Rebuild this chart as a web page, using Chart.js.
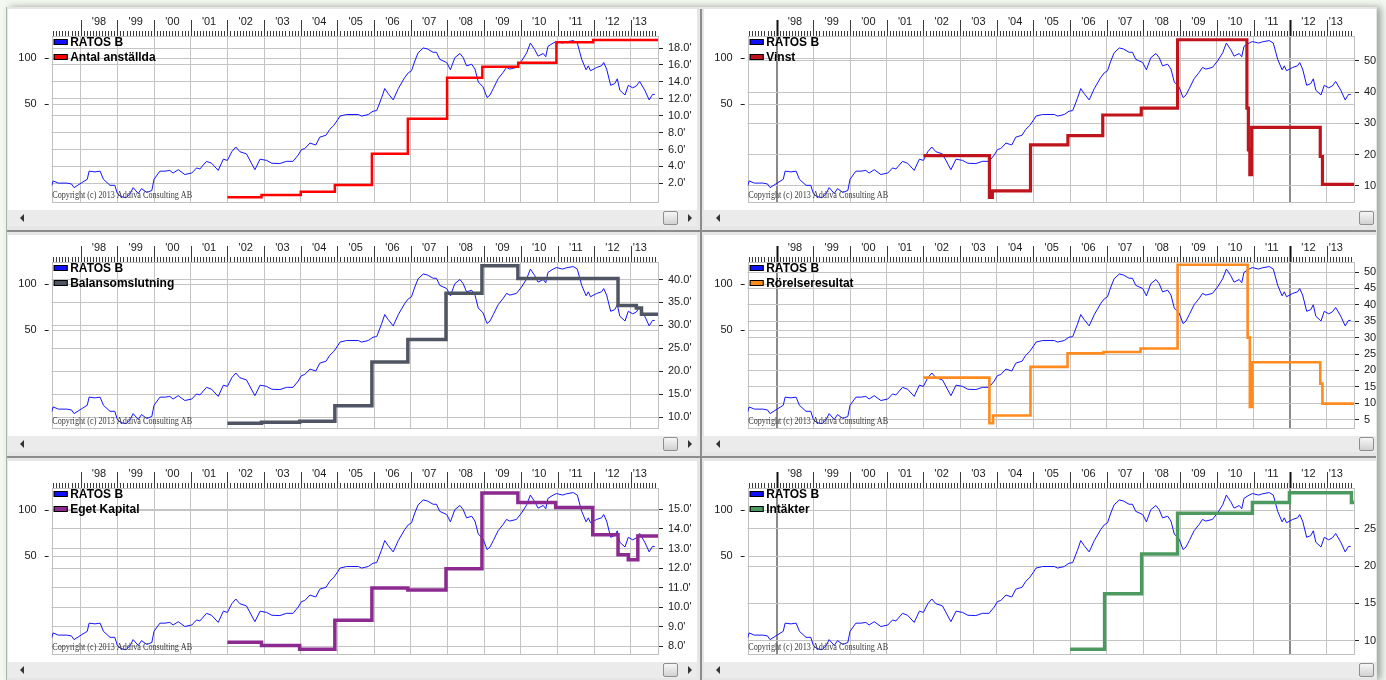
<!DOCTYPE html>
<html><head><meta charset="utf-8">
<script src="https://cdn.jsdelivr.net/npm/chart.js@4.4.1/dist/chart.umd.min.js"></script>
<style>
html,body{margin:0;padding:0;}
body{width:1386px;height:680px;overflow:hidden;background:#f3f8f0;position:relative;font-family:"Liberation Sans",Arial,sans-serif;}
#frame{position:absolute;left:6px;top:7px;width:1370px;height:673px;background:#e6e6e6;border-left:1px solid #a9b7ae;box-shadow:4px 0 7px rgba(0,0,0,0.35);}
.panel{position:absolute;background:#fff;overflow:hidden;height:217px;}
.panel canvas{position:absolute;left:0;top:0;}
.sb{position:absolute;left:0;right:0;top:201px;height:16px;background:#ebebeb;}
.la{position:absolute;left:12px;top:4px;width:0;height:0;border-top:4px solid transparent;border-bottom:4px solid transparent;border-right:4px solid #333;}
.ra{position:absolute;left:680px;top:4px;width:0;height:0;border-top:4px solid transparent;border-bottom:4px solid transparent;border-left:4px solid #333;}
.th{position:absolute;left:655px;top:1px;width:13px;height:12px;border:1px solid #8e8e8e;border-radius:2px;background:linear-gradient(#f6f6f6,#d2d2d2);}
.hsep{position:absolute;left:7px;width:1369px;height:2px;background:#8c8c8c;}
.vsep{position:absolute;left:700px;width:2px;background:#8c8c8c;}
</style></head>
<body>
<div id="frame"></div>
<script>
// ---------- data ----------
const xMin = 1997.21, xMax = 2013.74;
const firstYear = 1998;
const yearLabels = ["'98","'99","'00","'01","'02","'03","'04","'05","'06","'07","'08","'09","'10","'11","'12","'13"];
const priceName = 'RATOS B';
const priceTicks = [50, 100];
const priceDates = [1997.21,1997.25,1997.39,1997.62,1997.75,1997.82,1998.03,1998.18,1998.23,1998.39,
 1998.53,1998.62,1998.80,1998.93,1999.00,1999.10,1999.24,1999.35,1999.43,1999.57,
 1999.66,1999.80,1999.94,2000.00,2000.16,2000.30,2000.43,2000.52,2000.66,2000.84,
 2001.03,2001.16,2001.25,2001.43,2001.57,2001.75,2001.89,2002.00,2002.12,2002.23,
 2002.34,2002.52,2002.75,2002.89,2003.07,2003.21,2003.43,2003.61,2003.79,2003.93,
 2004.02,2004.11,2004.25,2004.41,2004.52,2004.69,2004.79,2004.90,2005.01,2005.07,
 2005.25,2005.57,2005.66,2005.84,2005.97,2006.07,2006.20,2006.29,2006.38,2006.52,
 2006.66,2006.84,2006.93,2007.02,2007.11,2007.20,2007.34,2007.45,2007.61,2007.70,
 2007.79,2007.98,2008.08,2008.20,2008.34,2008.43,2008.52,2008.66,2008.75,2008.84,
 2008.97,2009.08,2009.16,2009.25,2009.38,2009.52,2009.61,2009.70,2009.88,2010.02,
 2010.16,2010.26,2010.38,2010.47,2010.61,2010.68,2010.74,2010.88,2010.97,2011.14,
 2011.24,2011.43,2011.54,2011.66,2011.78,2011.84,2011.90,2012.07,2012.20,2012.26,
 2012.34,2012.45,2012.56,2012.63,2012.70,2012.84,2012.93,2013.05,2013.15,2013.24,
 2013.38,2013.50,2013.59,2013.65];
const priceValues = [14.5,15.6,15.1,15.1,14.9,14.1,15.2,16.0,18.1,17.9,
 18.1,16.0,14.6,14.6,12.9,12.3,12.1,12.9,14.1,12.9,
 13.9,13.1,13.5,16.0,18.1,18.1,18.3,17.6,18.5,17.2,
 17.6,19.0,18.7,21.0,20.4,18.3,21.7,21.3,24.3,26.1,
 24.3,23.5,18.5,21.7,21.3,20.4,20.3,21.0,21.0,23.1,
 25.1,25.5,27.7,26.9,30.3,31.2,34.1,36.2,39.5,41.7,
 42.7,42.7,41.7,42.7,44.9,45.3,54.6,63.3,58.8,53.3,
 63.3,75.2,80.2,82.9,96.1,108.8,117.1,115.4,109.7,109.7,
 98.5,93.9,84.1,101.0,107.7,101.0,89.3,91.5,85.0,69.9,
 64.9,55.2,57.4,63.3,73.4,81.0,87.2,85.0,87.2,96.1,
 108.8,126.1,114.2,103.5,107.7,102.5,119.9,126.1,129.1,126.1,
 128.5,131.0,126.1,98.5,84.1,89.3,82.9,87.2,89.3,93.9,
 85.0,66.5,68.2,73.4,61.7,57.4,66.5,64.0,65.9,70.5,
 61.7,53.3,57.9,57.9];

// Antal anställda (thousands)
const empDates  = [2002.0,2002.93,2004.0,2004.93,2005.94,2006.92,2007.99,2008.95,2009.93,2010.97,2011.97,2013.74];
const empValues = [0.35,0.62,1.0,1.81,5.5,9.63,14.47,15.77,16.27,18.69,18.96,18.96];
const empTicks  = [2,4,6,8,10,12,14,16,18];
// Vinst
const profitDates  = [2002.0,2003.8,2003.88,2004.92,2005.94,2006.89,2007.94,2008.93,2010.82,2010.86,2010.9,2010.95,2012.82,2012.88,2013.74];
const profitValues = [19.7,6.3,8.4,23.1,26.1,32.7,34.9,56.8,34.9,21.5,13.6,28.7,19.4,10.5,10.5];
const profitTicks  = [10,20,30,40,50];
// Balansomslutning
const assetsDates  = [2002.0,2002.93,2003.97,2004.93,2005.94,2006.92,2007.96,2008.94,2009.92,2012.65,2013.15,2013.29,2013.74];
const assetsValues = [8.67,8.88,9.09,12.48,22.0,26.9,37.0,43.0,40.2,34.35,33.8,32.4,32.4];
const assetsTicks  = [10,15,20,25,30,35,40];
// Rörelseresultat
const opDates  = [2002.0,2003.8,2003.9,2004.92,2005.93,2006.91,2007.92,2008.93,2010.84,2010.9,2010.97,2012.82,2012.88,2013.74];
const opValues = [17.8,3.9,6.27,21.08,25.2,25.6,26.7,52.2,30.0,8.9,22.5,16.0,9.9,9.9];
const opTicks  = [5,10,15,20,25,30,35,40,45,50];
// Eget Kapital
const equityDates  = [2002.0,2002.93,2003.97,2004.93,2005.94,2006.92,2007.96,2008.94,2009.92,2010.95,2011.96,2012.65,2012.93,2013.19,2013.74];
const equityValues = [8.21,8.05,7.85,9.34,10.98,10.88,11.97,15.84,15.35,15.1,13.7,12.68,12.43,13.64,13.64];
const equityTicks  = [8,9,10,11,12,13,14,15];
// Intäkter
const revDates  = [2006.0,2006.94,2007.95,2008.93,2010.97,2011.98,2013.67,2013.74];
const revValues = [8.83,16.26,21.6,27.09,28.52,29.83,28.52,28.52];
const revTicks  = [10,15,20,25];

// ---------- helpers ----------
const FONT = '"Liberation Sans", Arial, sans-serif';
const fmt1 = v => Number(v).toFixed(1) + "'";
const fmt0 = v => String(v);
const zip = (d, v) => d.map((x, i) => ({x, y: v[i]}));

// top axis ticks: year boundaries (grid) + centered labels
const xTickVals = [], xTickLabels = [];
for (let i = 0; i < yearLabels.length; i++) {
  const y = firstYear + i;
  xTickVals.push(y); xTickLabels.push('');
  const pos = (y + 1 <= xMax) ? y + 0.5 : y + (xMax - y) * 0.33;
  xTickVals.push(pos); xTickLabels.push(yearLabels[i]);
}

const panels = [
  {name:'Antal anställda', dates:empDates, values:empValues, ticks:empTicks, min:-0.26, max:19.42, fmt:fmt1, color:'#ff0000', width:2.5, row:0, col:0},
  {name:'Vinst', dates:profitDates, values:profitValues, ticks:profitTicks, min:4.7, max:58.0, fmt:fmt0, color:'#c0141c', width:3.2, row:0, col:1},
  {name:'Balansomslutning', dates:assetsDates, values:assetsValues, ticks:assetsTicks, min:7.54, max:43.81, fmt:fmt1, color:'#4f5562', width:3.5, row:1, col:0},
  {name:'Rörelseresultat', dates:opDates, values:opValues, ticks:opTicks, min:2.34, max:53.05, fmt:fmt0, color:'#ff8a1e', width:2.6, row:1, col:1},
  {name:'Eget Kapital', dates:equityDates, values:equityValues, ticks:equityTicks, min:7.59, max:16.09, fmt:fmt1, color:'#8c2a90', width:3.5, row:2, col:0},
  {name:'Intäkter', dates:revDates, values:revValues, ticks:revTicks, min:8.13, max:30.48, fmt:fmt0, color:'#4c9a60', width:3.5, row:2, col:1}
];

const deco = {
  id: 'deco',
  beforeDatasetsDraw(chart, args, o) {
    const {ctx, chartArea: a} = chart;
    const xs = chart.scales.x;
    ctx.save();
    ctx.strokeStyle = '#c0c0c0'; ctx.lineWidth = 1;
    ctx.strokeRect(Math.round(a.left) + 0.5, Math.round(a.top) + 0.5, Math.round(a.right - a.left), Math.round(a.bottom - a.top));
    // monthly comb
    ctx.strokeStyle = '#3a3a3a';
    ctx.beginPath();
    for (let m = Math.ceil(xMin * 12); m <= Math.floor(xMax * 12); m++) {
      if (m % 12 === 0) continue;
      const px = Math.round(xs.getPixelForValue(m / 12)) + 0.5;
      ctx.moveTo(px, a.top - 5); ctx.lineTo(px, a.top);
    }
    ctx.stroke();
    for (let i = 0; i < yearLabels.length; i++) {
      const y = firstYear + i;
      const heavy = o.heavy && o.heavy.includes(y);
      const px = Math.round(xs.getPixelForValue(y)) + 0.5;
      ctx.lineWidth = heavy ? 2 : 1;
      ctx.strokeStyle = heavy ? '#111' : '#3a3a3a';
      ctx.beginPath(); ctx.moveTo(px, a.top - 16); ctx.lineTo(px, a.top); ctx.stroke();
    }
    ctx.restore();
  },
  afterDatasetsDraw(chart, args, o) {
    const {ctx, chartArea: a} = chart;
    ctx.save();
    // copyright
    ctx.fillStyle = '#3a3a3a';
    ctx.font = '10px "Liberation Serif", "Times New Roman", serif';
    ctx.textBaseline = 'alphabetic';
    ctx.fillText('Copyright (c) 2013 Addiva Consulting AB', a.left + 0.5, a.bottom - 4, 140);
    // legend
    const items = [[priceName, '#1010ff'], [o.name, o.color]];
    ctx.font = 'bold 12px ' + FONT;
    items.forEach((it, i) => {
      const by = a.top + 3 + i * 15;
      ctx.fillStyle = it[1];
      ctx.fillRect(a.left + 2, by, 14, 6);
      ctx.strokeStyle = '#000'; ctx.lineWidth = 1;
      ctx.strokeRect(a.left + 2.5, by + 0.5, 13, 5);
      ctx.fillStyle = '#000';
      ctx.fillText(it[0], a.left + 18.5, a.top + 10 + i * 15);
    });
    ctx.restore();
  }
};

const frame = document.getElementById('frame');
const body = document.body;
for (let r = 0; r < 3; r++) {
  const s = document.createElement('div'); s.className = 'hsep'; s.style.top = (230 + 226 * r) + 'px'; body.appendChild(s);
}
const vs = document.createElement('div'); vs.className = 'vsep'; vs.style.top = '9px'; vs.style.height = '671px'; body.appendChild(vs);

panels.forEach(p => {
  const W = p.col === 0 ? 689 : 672;
  const div = document.createElement('div');
  div.className = 'panel';
  div.style.left = (p.col === 0 ? 8 : 704) + 'px';
  div.style.top = (9 + 226 * p.row) + 'px';
  div.style.width = W + 'px';
  const cv = document.createElement('canvas');
  cv.width = W; cv.height = 208;
  cv.style.width = W + 'px'; cv.style.height = '208px';
  div.appendChild(cv);
  const sb = document.createElement('div'); sb.className = 'sb';
  sb.innerHTML = '<div class="la"></div><div class="th"></div><div class="ra"></div>';
  div.appendChild(sb);
  body.appendChild(div);

  const heavy = p.col === 1 ? [1998, 2012] : [];
  const gridX = c => {
    const v = c.tick && c.tick.value;
    if (!Number.isInteger(v)) return 'rgba(0,0,0,0)';
    return heavy.includes(v) ? '#8a8a8a' : '#c4c4c4';
  };
  new Chart(cv, {
    type: 'line',
    data: { datasets: [
      { label: p.name, data: zip(p.dates, p.values), borderColor: p.color, borderWidth: p.width,
        stepped: true, pointRadius: 0, yAxisID: 'yR', order: 0, borderJoinStyle: 'miter', borderCapStyle: 'butt' },
      { label: priceName, data: zip(priceDates, priceValues), borderColor: '#1414ff', borderWidth: 1,
        pointRadius: 0, yAxisID: 'yL', order: 1, tension: 0 }
    ]},
    options: {
      responsive: false, animation: false, devicePixelRatio: 1,
      layout: { padding: { left: 0, right: 0, top: 0, bottom: 10 } },
      plugins: { legend: { display: false }, tooltip: { enabled: false },
                 deco: { name: p.name, color: p.color, heavy } },
      scales: {
        x: { type: 'linear', position: 'top', min: xMin, max: xMax,
             afterBuildTicks: s => { s.ticks = xTickVals.map(v => ({value: v})); },
             afterFit: s => { s.height = 27; },
             ticks: { autoSkip: false, maxRotation: 0, minRotation: 0, padding: 7, color: '#1a1a1a',
                      font: { size: 11, family: FONT }, callback: (v, i) => xTickLabels[i] },
             grid: { drawTicks: false, color: gridX, lineWidth: c => (c.tick && heavy.includes(c.tick.value)) ? 2 : 1 },
             border: { display: false } },
        yL: { type: 'logarithmic', position: 'left', min: 11.27, max: 140.4,
              afterBuildTicks: s => { s.ticks = priceTicks.map(v => ({value: v})); },
              afterFit: s => { s.width = 43.7; },
              ticks: { padding: 8, color: '#1a1a1a', font: { size: 11, family: FONT }, callback: v => String(v) },
              grid: { color: '#c4c4c4', tickColor: '#222', tickLength: 7, tickBorderDash: [4, 20] },
              border: { display: false } },
        yR: { type: 'linear', position: 'right', min: p.min, max: p.max,
              afterBuildTicks: s => { s.ticks = p.ticks.map(v => ({value: v})); },
              afterFit: s => { s.width = W - 650; },
              ticks: { padding: 5, color: '#1a1a1a', font: { size: 11, family: FONT }, callback: v => p.fmt(v) },
              grid: { color: '#c4c4c4', tickColor: '#222', tickLength: 5 },
              border: { display: false } }
      }
    },
    plugins: [deco]
  });
});
</script>
</body></html>
